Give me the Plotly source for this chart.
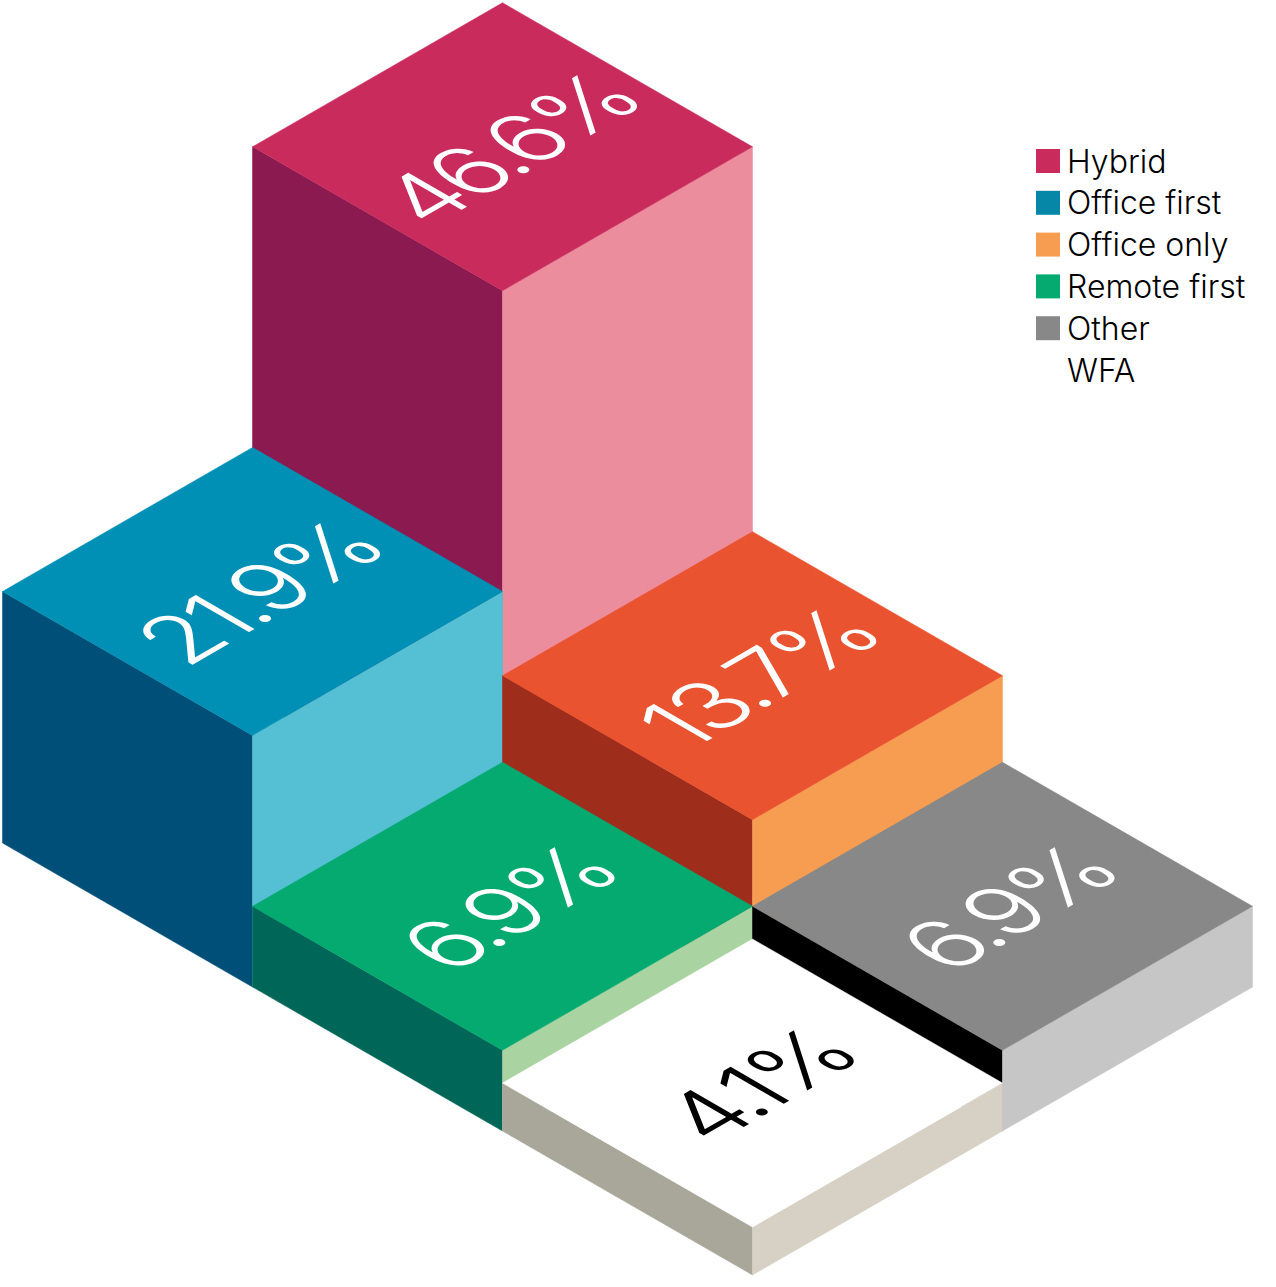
import plotly.graph_objects as go

# values, back to front so nearer blocks cover the ones behind
blocks = ["Hybrid", "Office first", "Office only", "Remote first", "Other", "WFA"]
values = [46.6, 21.9, 13.7, 6.9, 6.9, 4.1]
# drawn height of each block, the picture is not quite proportional to the labels
heights = [47.2, 21.5, 14.3, 6.9, 6.9, 4.1]

legend_names = ["Hybrid", "Office first", "Office only", "Remote first", "Other", "WFA"]

# grid cell of each block, counted from the front block
cols = [1, 0, 1, 0, 1, 0]
rows = [2, 2, 1, 1, 0, 0]

top_colors = ["#C92C5C", "#0090B5", "#EA532F", "#05AA71", "#888888", "#FFFFFF"]
left_colors = ["#8A1A4F", "#004F78", "#9F2D1B", "#006758", "#000000", "#A9A69A"]
right_colors = ["#EC8D9D", "#55BFD3", "#F79D52", "#A9D3A0", "#C6C6C6", "#D6D1C4"]
label_colors = ["white", "white", "white", "white", "white", "black"]
legend_colors = ["#C92C5C", "#0787A8", "#F79D52", "#05AA71", "#888888", "#FFFFFF"]

W, H = 1276, 1287
ORIGIN_X, ORIGIN_Y = 752.5, 1131  # ground centre of the front block
HALF_W, HALF_H = 250, 144
UNIT = 11.7  # pixels per percent
FONT = "Inter"


def iso(col, row, level):
    return ORIGIN_X + (col - row) * HALF_W, ORIGIN_Y - (col + row) * HALF_H - level * UNIT


def face(points, color):
    xs, ys = zip(*points)
    return go.Scatter(
        x=list(xs) + [xs[0]], y=list(ys) + [ys[0]],
        mode="lines", fill="toself", fillcolor=color,
        line=dict(color=color, width=0.5),
        hoverinfo="skip", showlegend=False,
    )


fig = go.Figure()
annotations = []

for i in range(len(blocks)):
    c, r, h = cols[i], rows[i], heights[i]
    cx, gy = iso(c, r, 0)
    ty = gy - h * UNIT
    left = [(cx - HALF_W, ty), (cx, ty + HALF_H), (cx, gy + HALF_H), (cx - HALF_W, gy)]
    right = [(cx + HALF_W, ty), (cx, ty + HALF_H), (cx, gy + HALF_H), (cx + HALF_W, gy)]
    top = [(cx, ty - HALF_H), (cx + HALF_W, ty), (cx, ty + HALF_H), (cx - HALF_W, ty)]
    fig.add_trace(face(left, left_colors[i]))
    fig.add_trace(face(right, right_colors[i]))
    fig.add_trace(face(top, top_colors[i]))
    annotations.append(dict(
        x=cx + 5, y=ty + 2, text=f"{values[i]}%", showarrow=False,
        xanchor="center", yanchor="middle",
        font=dict(family=FONT, size=93, color=label_colors[i], weight=300),
    ))

# legend, squares and text on the same axes
legend_y = [161 + 41.8 * i for i in range(len(legend_names))]
fig.add_trace(go.Scatter(
    x=[1048] * len(legend_names), y=legend_y, mode="markers",
    marker=dict(symbol="square", size=24, color=legend_colors),
    hoverinfo="skip", showlegend=False,
))
for name, y in zip(legend_names, legend_y):
    annotations.append(dict(
        x=1065, y=y, text=name, showarrow=False, xanchor="left", yanchor="middle",
        font=dict(family=FONT, size=32, color="black", weight=300),
    ))

fig.update_layout(
    width=W, height=H,
    margin=dict(l=0, r=0, t=0, b=0),
    paper_bgcolor="white", plot_bgcolor="white",
    xaxis=dict(range=[0, W], visible=False, fixedrange=True),
    yaxis=dict(range=[H, 0], visible=False, fixedrange=True),
    annotations=annotations,
)

# lay the labels flat on the top faces, annotations can only rotate
skew = """
document.body.style.margin = '0';
document.querySelectorAll('.annotation-text-g').forEach(function (g, i) {
    if (i >= %d) return;
    g.querySelector('text').style.letterSpacing = '-5.5px';
    var b = g.getBBox();
    var x = b.x + b.width / 2, y = b.y + b.height / 2;
    g.setAttribute('transform', 'translate(' + x + ',' + y + ') matrix(0.866,-0.5,0.866,0.5,0,0) translate(' + (-x) + ',' + (-y) + ')');
});
""" % len(blocks)

fig.write_html("out.html", config=dict(displayModeBar=False), post_script=skew)
